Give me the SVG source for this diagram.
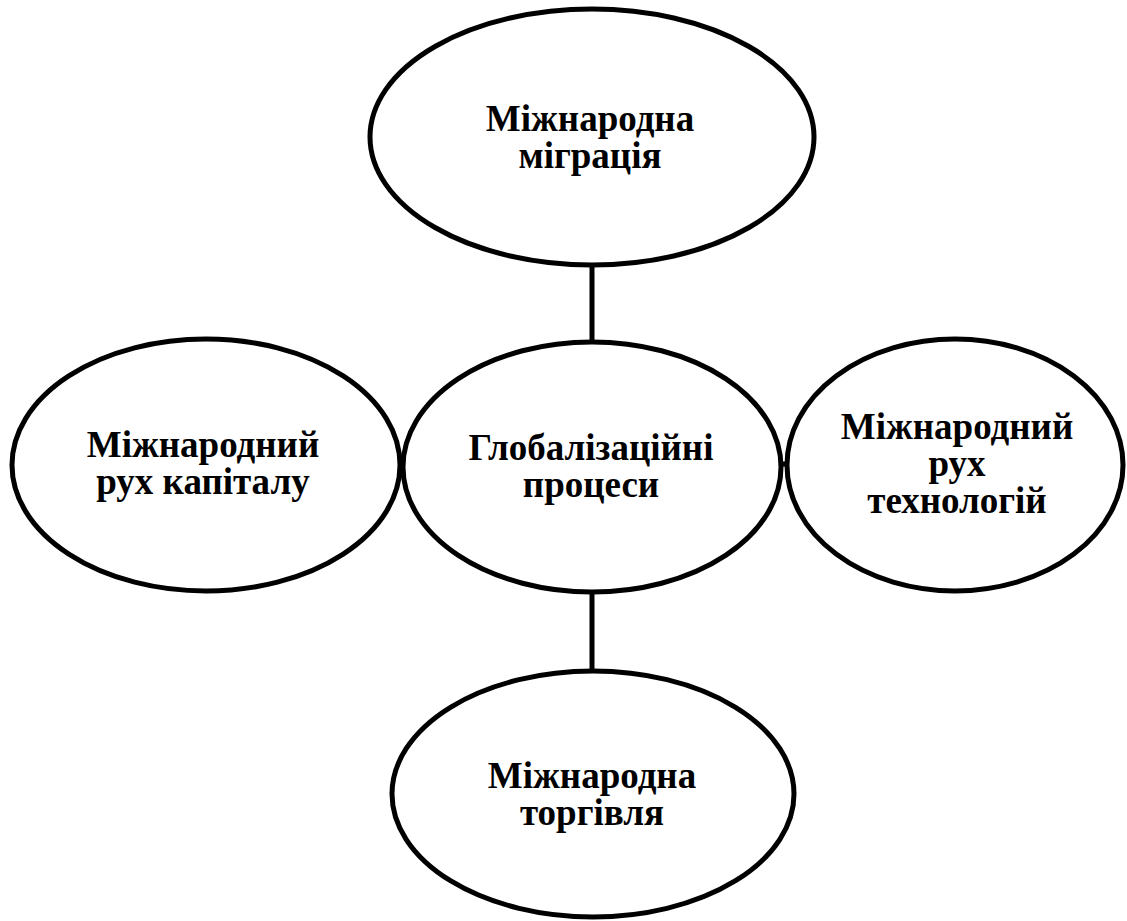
<svg xmlns="http://www.w3.org/2000/svg" width="1127" height="921" viewBox="0 0 1127 921">
<style>
.n{fill:#fff;stroke:#000;stroke-width:5}
.c{stroke:#000;stroke-width:5;fill:none}
.t{font-family:'Liberation Serif','DejaVu Serif',serif;font-weight:bold;font-size:37px;text-anchor:middle;fill:#000}
</style>
<rect width="1127" height="921" fill="#fff"/>
<g id="connectors">
<line class="c" x1="592" y1="264" x2="592" y2="342"/>
<line class="c" x1="592" y1="592" x2="592" y2="672"/>
<line class="c" x1="398" y1="465" x2="406" y2="465"/>
<line class="c" x1="778" y1="464" x2="790" y2="464"/>
</g>
<g id="top">
<ellipse class="n" cx="592" cy="137" rx="222" ry="128"/>
<text class="t" font-family="Liberation Serif, serif" x="590" y="131">Міжнародна</text>
<text class="t" font-family="Liberation Serif, serif" x="590" y="168">міграція</text>
</g>
<g id="left">
<ellipse class="n" cx="206" cy="465" rx="194" ry="126"/>
<text class="t" font-family="Liberation Serif, serif" x="203" y="457">Міжнародний</text>
<text class="t" font-family="Liberation Serif, serif" x="203" y="494">рух капіталу</text>
</g>
<g id="right">
<ellipse class="n" cx="955" cy="465" rx="168" ry="126"/>
<text class="t" font-family="Liberation Serif, serif" x="957" y="439">Міжнародний</text>
<text class="t" font-family="Liberation Serif, serif" x="957" y="476">рух</text>
<text class="t" font-family="Liberation Serif, serif" x="957" y="513">технологій</text>
</g>
<g id="center">
<ellipse class="n" cx="592" cy="467" rx="189" ry="125"/>
<text class="t" font-family="Liberation Serif, serif" x="591" y="460">Глобалізаційні</text>
<text class="t" font-family="Liberation Serif, serif" x="591" y="497">процеси</text>
</g>
<g id="bottom">
<ellipse class="n" cx="593" cy="794" rx="201" ry="123"/>
<text class="t" font-family="Liberation Serif, serif" x="592" y="788">Міжнародна</text>
<text class="t" font-family="Liberation Serif, serif" x="592" y="825">торгівля</text>
</g>
</svg>
